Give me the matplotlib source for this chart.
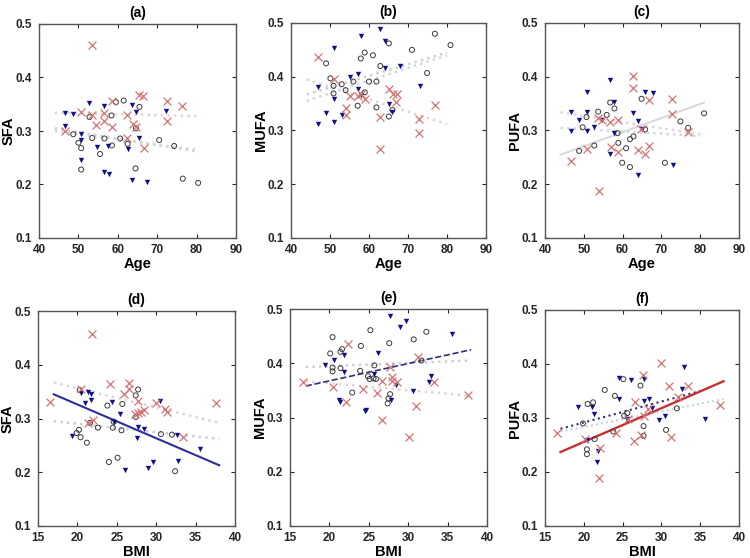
import numpy as np
import matplotlib
matplotlib.use("Agg")
import matplotlib.pyplot as plt

plt.rcParams['font.family'] = ['Liberation Sans', 'DejaVu Sans']
plt.rcParams['font.weight'] = 'bold'

# (x, y) points, one list per panel and group
# tri = filled blue triangles, circ = open black circles, cross = red crosses
a_tri = [(46.6, 0.334), (48.7, 0.331), (52.6, 0.352), (56.6, 0.346), (46.6, 0.310), (50.7, 0.294),
         (50.7, 0.283), (63.5, 0.348), (64.6, 0.335), (72.3, 0.337), (65.5, 0.286), (54.6, 0.270),
         (57.6, 0.272), (62.5, 0.266), (50.7, 0.245), (56.5, 0.223), (57.7, 0.220), (63.5, 0.209),
         (67.5, 0.204)]
a_circ = [(59.5, 0.354), (61.5, 0.357), (52.8, 0.326), (58.4, 0.329), (65.5, 0.345), (64.6, 0.305),
          (48.7, 0.294), (53.5, 0.287), (56.6, 0.286), (60.6, 0.286), (62.5, 0.276), (70.5, 0.283),
          (74.3, 0.272), (50.7, 0.268), (55.5, 0.257), (58.5, 0.273), (64.5, 0.230), (50.7, 0.228),
          (76.5, 0.211), (80.4, 0.203), (50.0, 0.278)]
a_cross = [(53.5, 0.460), (50.6, 0.336), (53.5, 0.329), (56.5, 0.333), (58.5, 0.357), (54.5, 0.312),
           (56.6, 0.318), (58.5, 0.307), (62.4, 0.329), (62.4, 0.286), (63.8, 0.313), (64.5, 0.308),
           (65.5, 0.368), (66.4, 0.365), (66.6, 0.268), (72.4, 0.357), (72.4, 0.319), (76.4, 0.346),
           (46.6, 0.300)]

b_tri = [(62.9, 0.489), (58.0, 0.476), (64.0, 0.467), (50.9, 0.454), (68.0, 0.420), (64.0, 0.416),
         (47.0, 0.380), (55.0, 0.399), (57.1, 0.406), (73.0, 0.383), (50.9, 0.359), (57.1, 0.377),
         (58.0, 0.366), (49.0, 0.332), (53.0, 0.328), (50.9, 0.316), (47.0, 0.313), (65.0, 0.350),
         (66.0, 0.334)]
b_circ = [(76.9, 0.480), (80.9, 0.459), (65.1, 0.462), (49.0, 0.425), (58.9, 0.445), (61.0, 0.440),
          (57.9, 0.434), (71.0, 0.450), (62.9, 0.420), (50.1, 0.397), (50.9, 0.383), (53.0, 0.386),
          (56.0, 0.391), (60.0, 0.391), (61.9, 0.391), (74.9, 0.407), (50.9, 0.369), (54.0, 0.375),
          (58.9, 0.371), (57.1, 0.346), (61.9, 0.343), (65.1, 0.326), (66.0, 0.338)]
b_cross = [(46.8, 0.437), (50.9, 0.395), (55.0, 0.364), (58.0, 0.367), (57.1, 0.365), (59.0, 0.358),
           (54.0, 0.342), (54.0, 0.328), (65.0, 0.377), (66.1, 0.368), (67.1, 0.368), (66.9, 0.353),
           (62.9, 0.326), (72.9, 0.322), (76.9, 0.347), (72.9, 0.295), (62.9, 0.265)]

c_tri = [(56.8, 0.394), (50.7, 0.372), (65.8, 0.372), (67.9, 0.370), (57.9, 0.353), (46.7, 0.334),
         (50.7, 0.334), (62.8, 0.332), (48.8, 0.319), (63.9, 0.317), (54.8, 0.319), (52.7, 0.306),
         (46.7, 0.299), (50.7, 0.299), (57.9, 0.295), (64.9, 0.302), (56.8, 0.256), (72.9, 0.235),
         (63.9, 0.217)]
c_circ = [(64.9, 0.359), (56.8, 0.352), (57.9, 0.341), (53.7, 0.335), (55.9, 0.329), (50.7, 0.325),
          (81.0, 0.332), (74.9, 0.317), (76.9, 0.305), (49.7, 0.306), (65.8, 0.302), (58.7, 0.295),
          (62.8, 0.289), (61.9, 0.284), (60.9, 0.267), (58.9, 0.277), (52.7, 0.272), (48.8, 0.262),
          (59.9, 0.240), (61.9, 0.232), (70.9, 0.240)]
c_cross = [(62.8, 0.401), (62.8, 0.379), (66.9, 0.357), (72.7, 0.359), (72.7, 0.330), (53.7, 0.323),
           (54.8, 0.319), (56.8, 0.315), (58.7, 0.319), (64.7, 0.303), (76.9, 0.297), (50.7, 0.265),
           (56.9, 0.269), (58.7, 0.260), (63.9, 0.263), (65.8, 0.256), (66.9, 0.271), (46.7, 0.243),
           (53.9, 0.187)]

d_tri = [(20.4, 0.347), (21.3, 0.349), (21.7, 0.345), (21.7, 0.335), (21.0, 0.328), (24.4, 0.331),
         (30.5, 0.333), (25.4, 0.308), (24.7, 0.293), (27.7, 0.285), (28.4, 0.281), (27.6, 0.264),
         (19.3, 0.268), (32.6, 0.269), (35.5, 0.243), (32.8, 0.221), (29.6, 0.219), (28.9, 0.207),
         (26.1, 0.204)]
d_circ = [(27.7, 0.354), (27.4, 0.343), (25.7, 0.327), (23.8, 0.324), (24.6, 0.294), (22.6, 0.283),
          (24.5, 0.283), (25.6, 0.278), (20.2, 0.279), (19.9, 0.273), (20.4, 0.265), (21.2, 0.255),
          (30.6, 0.271), (32.0, 0.270), (25.1, 0.227), (24.0, 0.219), (32.4, 0.202), (20.3, 0.353),
          (27.4, 0.303), (21.6, 0.292)]
d_cross = [(21.9, 0.457), (16.5, 0.330), (20.4, 0.355), (24.2, 0.364), (26.6, 0.366), (26.5, 0.355),
           (25.9, 0.345), (27.7, 0.332), (30.0, 0.328), (31.1, 0.317), (31.4, 0.312), (27.3, 0.308),
           (27.7, 0.310), (28.1, 0.313), (28.5, 0.315), (22.0, 0.298), (21.4, 0.291), (33.4, 0.266),
           (37.6, 0.328)]

e_tri = [(27.7, 0.487), (29.7, 0.477), (29.0, 0.467), (35.5, 0.453), (26.2, 0.419), (19.5, 0.397),
         (20.6, 0.406), (21.9, 0.415), (21.9, 0.383), (25.6, 0.380), (32.9, 0.376), (32.6, 0.365),
         (28.4, 0.359), (30.6, 0.349), (21.2, 0.332), (21.4, 0.329), (27.8, 0.332), (24.6, 0.314),
         (24.5, 0.312)]
e_circ = [(25.2, 0.461), (20.4, 0.448), (24.0, 0.432), (27.6, 0.437), (32.3, 0.458), (30.7, 0.444),
          (20.1, 0.418), (21.6, 0.426), (21.4, 0.421), (20.4, 0.392), (20.4, 0.385), (21.4, 0.391),
          (23.9, 0.386), (25.7, 0.396), (31.7, 0.405), (24.9, 0.376), (25.1, 0.371), (25.6, 0.372),
          (25.9, 0.371), (22.9, 0.346), (27.7, 0.343), (27.5, 0.335), (27.4, 0.326)]
e_cross = [(16.7, 0.366), (22.3, 0.436), (20.4, 0.357), (24.3, 0.353), (26.0, 0.346), (26.7, 0.367),
           (27.9, 0.375), (28.0, 0.367), (28.6, 0.365), (31.3, 0.412), (33.3, 0.366), (37.6, 0.341),
           (22.1, 0.329), (26.7, 0.295), (31.0, 0.322), (30.1, 0.264), (27.7, 0.394)]

f_tri = [(32.9, 0.395), (24.6, 0.375), (26.1, 0.370), (27.7, 0.373), (32.6, 0.354), (24.5, 0.335),
         (27.7, 0.332), (28.4, 0.335), (19.3, 0.321), (21.0, 0.320), (21.3, 0.307), (28.8, 0.318),
         (29.7, 0.296), (30.5, 0.303), (35.6, 0.298), (25.6, 0.299), (20.4, 0.260), (21.8, 0.238),
         (21.7, 0.218)]
f_circ = [(25.1, 0.372), (27.3, 0.360), (22.7, 0.352), (24.0, 0.341), (20.5, 0.326), (21.2, 0.329),
          (25.2, 0.304), (25.6, 0.309), (19.9, 0.290), (32.0, 0.318), (27.7, 0.285), (30.6, 0.278),
          (27.7, 0.267), (23.8, 0.275), (20.4, 0.242), (20.4, 0.233), (21.4, 0.261)]
f_cross = [(30.0, 0.401), (27.6, 0.380), (31.0, 0.360), (33.4, 0.360), (32.2, 0.338), (37.5, 0.325),
           (26.6, 0.330), (28.3, 0.316), (27.7, 0.303), (16.5, 0.272), (24.1, 0.273), (26.5, 0.258),
           (27.4, 0.268), (31.3, 0.264), (22.1, 0.244), (21.9, 0.188), (20.2, 0.261), (25.7, 0.298)]

# regression lines: (x0, x1, y0, y1)
a_lines = [(44, 80, 0.334, 0.328), (44, 80, 0.305, 0.262), (44, 80, 0.300, 0.265)]
b_lines = [(44, 80, 0.395, 0.312), (44, 80, 0.367, 0.445), (44, 80, 0.355, 0.440)]
c_lines = [(44, 81, 0.255, 0.352), (44, 80, 0.334, 0.293), (44, 80, 0.305, 0.290)]
d_lines = [(17, 38, 0.367, 0.292), (17, 38, 0.295, 0.262), (17, 38, 0.345, 0.213)]
e_lines = [(17, 38, 0.367, 0.340), (17, 38, 0.393, 0.405), (17, 38, 0.358, 0.425)]
f_lines = [(17, 38, 0.275, 0.335), (17, 35, 0.280, 0.350), (17, 38, 0.237, 0.368)]

# line style per fit: (colour, linestyle, width)
pale_pink = ('#e6d3d3', ':', 1.8)
pale_grey = ('#cfcfcf', ':', 1.8)
pale_blue = ('#d3d6e6', ':', 1.8)
a_style = [pale_pink, pale_grey, pale_blue]
b_style = [pale_pink, pale_grey, pale_blue]
c_style = [('#d8d8d8', '-', 1.4), pale_pink, pale_blue]
d_style = [pale_pink, pale_grey, ('#2e2e9a', '-', 1.5)]
e_style = [pale_pink, pale_grey, ('#30307a', '--', 1.2)]
f_style = [('#bcd0d8', ':', 1.4), ('#30307a', ':', 1.5), ('#c83030', '-', 1.7)]

panels = [
    ('(a)', 'Age', 'SFA', a_tri, a_circ, a_cross, a_lines, a_style),
    ('(b)', 'Age', 'MUFA', b_tri, b_circ, b_cross, b_lines, b_style),
    ('(c)', 'Age', 'PUFA', c_tri, c_circ, c_cross, c_lines, c_style),
    ('(d)', 'BMI', 'SFA', d_tri, d_circ, d_cross, d_lines, d_style),
    ('(e)', 'BMI', 'MUFA', e_tri, e_circ, e_cross, e_lines, e_style),
    ('(f)', 'BMI', 'PUFA', f_tri, f_circ, f_cross, f_lines, f_style),
]

# axes boxes in pixels (left, top, right, bottom) on the 750x558 canvas
boxes = [(39, 24, 236, 238), (291, 23, 486, 238), (545, 23, 739, 238),
         (38, 311, 235, 526), (290, 309, 487, 526), (545, 310, 739, 526)]

W, H = 750, 558
fig = plt.figure(figsize=(7.5, 5.58), dpi=100)

for (title, xlab, ylab, tri, circ, cross, lines, styles), (l, t, r, b) in zip(panels, boxes):
    ax = fig.add_axes([l / W, 1 - b / H, (r - l) / W, (b - t) / H])

    for (x0, x1, y0, y1), (col, ls, lw) in zip(lines, styles):
        ax.plot([x0, x1], [y0, y1], color=col, linestyle=ls, linewidth=lw, zorder=2)

    cx, cy = zip(*circ)
    ax.scatter(cx, cy, s=13, facecolors='none', edgecolors='#3a3a3a', linewidths=0.7, zorder=3)
    tx, ty = zip(*tri)
    ax.scatter(tx, ty, s=15, marker='v', color='#10108c', linewidths=0, zorder=4)
    xx, xy = zip(*cross)
    ax.scatter(xx, xy, s=32, marker='x', color='#d07474', linewidths=0.9, zorder=5)

    if xlab == 'Age':
        ax.set_xlim(40, 90)
        ax.set_xticks([40, 50, 60, 70, 80, 90])
    else:
        ax.set_xlim(15, 40)
        ax.set_xticks([15, 20, 25, 30, 35, 40])
    ax.set_ylim(0.1, 0.5)
    ax.set_yticks([0.1, 0.2, 0.3, 0.4, 0.5])

    ax.tick_params(direction='in', top=True, right=True, length=3, width=0.8,
                   labelsize=8.5, colors='#262626')
    ax.tick_params(axis='y', pad=5)
    ax.tick_params(axis='x', pad=4)
    for lbl in ax.get_xticklabels() + ax.get_yticklabels():
        lbl.set_fontweight('bold')
    for sp in ax.spines.values():
        sp.set_color('#555555')
        sp.set_linewidth(1.0)

    ax.set_title(title, fontsize=10, fontweight='bold', pad=5)
    ax.set_xlabel(xlab, fontsize=10.5, fontweight='bold', labelpad=1)
    ax.set_ylabel(ylab, fontsize=10.5, fontweight='bold')
    # right edge of the y label sits about 18 px left of the axis
    ax.yaxis.set_label_coords(-23 / (r - l), 0.5)

fig.savefig('out.png', dpi=100, facecolor='white')
